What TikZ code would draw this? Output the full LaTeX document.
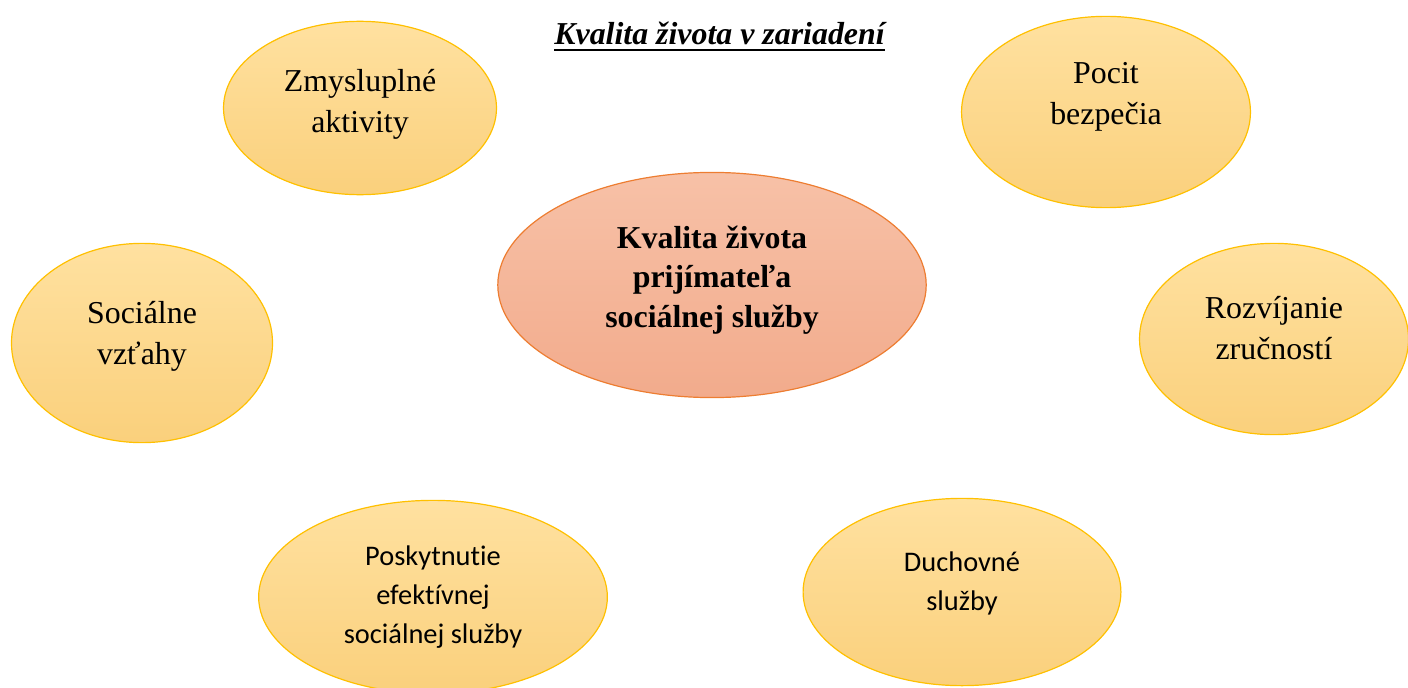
\documentclass[tikz,border=0pt]{standalone}
\usepackage{fontspec}
\setmainfont{Liberation Serif}
\newfontfamily\calibfont[Ligatures=NoCommon]{Carlito}
\usetikzlibrary{shapes.geometric}
\definecolor{bubbletop}{RGB}{255, 225, 160}
\definecolor{bubblebottom}{RGB}{250, 208, 124}
\definecolor{bubbleline}{RGB}{255, 192, 0}
\definecolor{coretop}{RGB}{247, 193, 167}
\definecolor{corebottom}{RGB}{242, 171, 140}
\definecolor{coreline}{RGB}{237, 125, 49}

\begin{document}
\begin{tikzpicture}[x=1bp, y=-1bp,
    bubble/.style={ellipse, draw=bubbleline, line width=1.2bp, top color=bubbletop, bottom color=bubblebottom, inner sep=0pt, align=center, font=\fontsize{32}{41}\selectfont},
    sansbubble/.style={bubble, font=\calibfont\fontsize{28.5}{39}\selectfont},
    core/.style={ellipse, draw=coreline, line width=1.2bp, top color=coretop, bottom color=corebottom, inner sep=0pt, align=center, font=\bfseries\fontsize{32}{39.5}\selectfont},
    lifttext/.style={text depth=#1}]
\clip (0,0) rectangle (1408,688);

% Title
\node[anchor=base, inner sep=0pt, font=\bfseries\itshape\fontsize{32}{38}\selectfont] (title) at (719.5,45) {Kvalita života v zariadení};
\draw[line width=2.6bp] ([yshift=-5bp]title.base west) -- ([yshift=-5bp]title.base east);

% Centre
\node[core, lifttext=17, minimum width=430, minimum height=226] (quality) at (712,285) {Kvalita života\\prijímateľa\\sociálnej služby};

% Surrounding areas
\node[bubble, lifttext=15, minimum width=274, minimum height=174] (activities) at (360,108) {Zmysluplné\\aktivity};
\node[bubble, lifttext=37, minimum width=290, minimum height=192] (safety) at (1106,112) {Pocit\\bezpečia};
\node[bubble, lifttext=21, minimum width=262, minimum height=200] (relations) at (142,343) {Sociálne\\vzťahy};
\node[bubble, lifttext=22, minimum width=270, minimum height=192] (skills) at (1274,339) {Rozvíjanie\\zručností};
\node[sansbubble, minimum width=350, minimum height=194] (service) at (433,597) {Poskytnutie\\efektívnej\\sociálnej služby};
\node[sansbubble, lifttext=22, minimum width=319, minimum height=188] (spiritual) at (962,592) {Duchovné\\služby};
\end{tikzpicture}
\end{document}
